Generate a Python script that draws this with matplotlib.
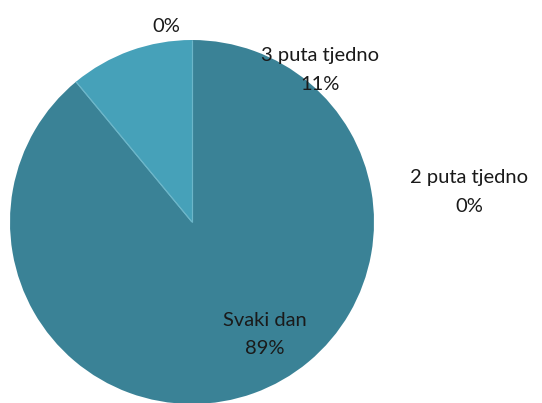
import matplotlib
matplotlib.use("Agg")
import matplotlib.pyplot as plt
import numpy as np

# data (clockwise from 12 o'clock)
categories = ["2 puta tjedno", "Svaki dan", "3 puta tjedno", ""]
shares = [0, 89, 11, 0]
colors = ["#3e8da3", "#3a8296", "#46a1b9", "#4aa8c0"]

W, H = 542, 403
fig = plt.figure(figsize=(W / 100, H / 100), dpi=100)
ax = fig.add_axes([0, 0, 1, 1])

cx, cy, r = 192, H - 222, 182
wedges, _ = ax.pie(shares, colors=colors, startangle=90, counterclock=False,
                   center=(cx, cy), radius=r, frame=True,
                   wedgeprops=dict(edgecolor="none", linewidth=0))

# thin light dividers between the visible slices
for w in wedges:
    if w.theta2 - w.theta1 > 0:
        for t in (w.theta1, w.theta2):
            a = np.deg2rad(t)
            ax.plot([cx, cx + r * np.cos(a)], [cy, cy + r * np.sin(a)],
                    color="#6cb6c9", lw=0.8, solid_capstyle="butt")

ax.set_xlim(0, W)
ax.set_ylim(0, H)
ax.axis("off")

# label placement in pixel coords (x, y of first line centre)
label_pos = {
    "2 puta tjedno": (469, 178),
    "Svaki dan": (265, 320),
    "3 puta tjedno": (320, 56),
    "": (166, 26),
}
font = dict(family="Lato", size=14.5, color="#1a1a1a", ha="center", va="center")
for name, val in zip(categories, shares):
    x, y = label_pos[name]
    pct = f"{val}%"
    if name:
        ax.text(x, H - y, name, **font)
        ax.text(x, H - y - 29, pct, **font)
    else:
        ax.text(x, H - y, pct, **font)

fig.savefig("out.png", dpi=100)
